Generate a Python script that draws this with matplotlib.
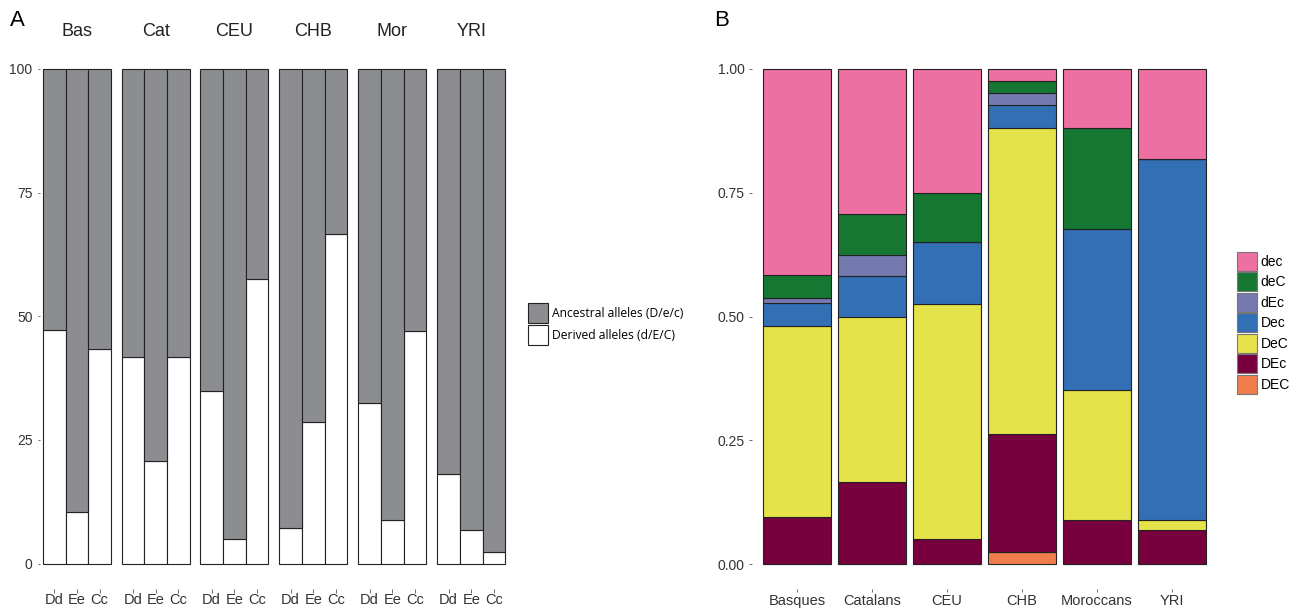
import matplotlib
matplotlib.use("Agg")
import matplotlib.pyplot as plt
from matplotlib.patches import Patch
import numpy as np

plt.rcParams['font.family'] = ['Liberation Sans', 'DejaVu Sans']

# ---------------- Data ----------------
# Panel A: percentage of derived alleles per gene and population
pops_short = ["Bas", "Cat", "CEU", "CHB", "Mor", "YRI"]
genes = ["Dd", "Ee", "Cc"]
derived_Dd = [47.2, 41.7, 34.9, 7.1, 32.4, 18.2]
derived_Ee = [10.4, 20.8, 5.0, 28.6, 8.8, 6.8]
derived_Cc = [43.4, 41.7, 57.5, 66.6, 47.0, 2.4]
legendA_labels = ["Ancestral alleles (D/e/c)", "Derived alleles (d/E/C)"]

# Panel B: haplotype frequencies
pops_long = ["Basques", "Catalans", "CEU", "CHB", "Moroccans", "YRI"]
hap_names = ["dec", "deC", "dEc", "Dec", "DeC", "DEc", "DEC"]  # legend order (top to bottom)
hap_dec = [0.416, 0.292, 0.251, 0.025, 0.119, 0.182]
hap_deC = [0.047, 0.084, 0.099, 0.023, 0.205, 0.000]
hap_dEc = [0.009, 0.042, 0.000, 0.024, 0.000, 0.000]
hap_Dec = [0.048, 0.082, 0.125, 0.048, 0.324, 0.729]
hap_DeC = [0.386, 0.334, 0.475, 0.618, 0.264, 0.021]
hap_DEc = [0.094, 0.166, 0.050, 0.238, 0.088, 0.068]
hap_DEC = [0.000, 0.000, 0.000, 0.024, 0.000, 0.000]

hap_colors = {"dec": "#EE6FA2", "deC": "#167733", "dEc": "#7479B0",
              "Dec": "#336FB5", "DeC": "#E5E24A", "DEc": "#79003F",
              "DEC": "#F07D4B"}
anc_color = "#8C8D91"
edge = "#222222"
tick_col = "#333333"

W, H = 1299, 609
fig = plt.figure(figsize=(W / 100, H / 100), dpi=100)


def fbox(x0, y_top, w, h):
    return [x0 / W, 1 - (y_top + h) / H, w / W, h / H]


def hh_for(px_height, fs_pt):
    fpx = fs_pt * 100 / 72
    return (px_height / fpx - 0.245) / 0.65


# ---------------- Panel A ----------------
derived = np.array([derived_Dd, derived_Ee, derived_Cc]).T  # pops x genes
facet_left = [43, 121.7, 200.3, 279.3, 358.3, 437.3]
fw = 68
a_top, a_bot = 69, 563.5
for i, pop in enumerate(pops_short):
    ax = fig.add_axes(fbox(facet_left[i], a_top, fw, a_bot - a_top))
    x = np.arange(len(genes))
    d = derived[i]
    ax.bar(x, d, width=1, color="white", edgecolor=edge, linewidth=0.8, clip_on=False)
    ax.bar(x, 100 - d, bottom=d, width=1, color=anc_color, edgecolor=edge,
           linewidth=0.8, clip_on=False)
    ax.set_xlim(-0.5, 2.5)
    ax.set_ylim(0, 100)
    for s in ax.spines.values():
        s.set_visible(False)
    ax.spines['bottom'].set_position(('outward', 18))
    ax.set_xticks(x)
    ax.set_xticklabels(genes, fontsize=10.5, color=tick_col)
    ax.tick_params(axis='x', length=3, width=0.6, color='#555555', pad=0.5)
    if i == 0:
        ax.spines['left'].set_position(('outward', 2.5))
        ax.set_yticks([0, 25, 50, 75, 100])
        ax.tick_params(axis='y', length=1.6, width=0.6, color='#555555', pad=3.5,
                       labelsize=10, labelcolor=tick_col)
    else:
        ax.set_yticks([])
    fig.text((facet_left[i] + fw / 2) / W, 1 - 31.5 / H, pop, ha='center', va='center',
             fontsize=13, color="#222222")

fig.text(17.5 / W, 1 - 21 / H, "A", ha='center', va='center', fontsize=16)

fsA = 8.7
fpxA = fsA * 100 / 72
fig.legend(handles=[Patch(facecolor=anc_color, edgecolor=edge, linewidth=0.8),
                    Patch(facecolor="white", edgecolor=edge, linewidth=0.8)],
           labels=legendA_labels, loc='upper left',
           bbox_to_anchor=(528 / W, 1 - 303 / H), frameon=False,
           prop={'family': 'Open Sans', 'size': fsA},
           handlelength=20 / fpxA, handleheight=hh_for(20, fsA),
           labelspacing=2 / fpxA, handletextpad=4.5 / fpxA, borderpad=0, borderaxespad=0)

# ---------------- Panel B ----------------
axB = fig.add_axes(fbox(763.3, 69, 1205.7 - 763.3, 564 - 69))
series = {"dec": hap_dec, "deC": hap_deC, "dEc": hap_dEc, "Dec": hap_Dec,
          "DeC": hap_DeC, "DEc": hap_DEc, "DEC": hap_DEC}
xb = np.arange(len(pops_long))
bottom = np.zeros(len(pops_long))
for name in reversed(hap_names):
    vals = np.array(series[name])
    axB.bar(xb, vals, bottom=bottom, width=0.9, color=hap_colors[name],
            edgecolor=edge, linewidth=0.8, label=name, clip_on=False)
    bottom += vals
axB.set_xlim(-0.45, 5.45)
axB.set_ylim(0, 1)
for s in axB.spines.values():
    s.set_visible(False)
axB.spines['bottom'].set_position(('outward', 18))
axB.spines['left'].set_position(('outward', 8))
axB.set_xticks(xb)
axB.set_xticklabels(pops_long, fontsize=10.5, color=tick_col)
axB.set_yticks([0, 0.25, 0.5, 0.75, 1.0])
axB.set_yticklabels(["0.00", "0.25", "0.50", "0.75", "1.00"])
axB.tick_params(axis='x', length=2.3, width=0.6, color='#555555', pad=1)
axB.tick_params(axis='y', length=2.2, width=0.6, color='#555555', pad=3,
                labelsize=10, labelcolor=tick_col)

fig.text(722 / W, 1 - 21 / H, "B", ha='center', va='center', fontsize=16)

handles = [Patch(facecolor=hap_colors[n], edgecolor='#777777', linewidth=0.8) for n in hap_names]
fsB = 10
fpxB = fsB * 100 / 72
fig.legend(handles=handles, labels=hap_names, loc='upper left',
           bbox_to_anchor=(1237.3 / W, 1 - 251.7 / H), frameon=False,
           prop={'size': fsB}, handlelength=20 / fpxB, handleheight=hh_for(19, fsB),
           labelspacing=1.5 / fpxB, handletextpad=3.5 / fpxB, borderpad=0, borderaxespad=0)

fig.savefig("out.png", dpi=100)
